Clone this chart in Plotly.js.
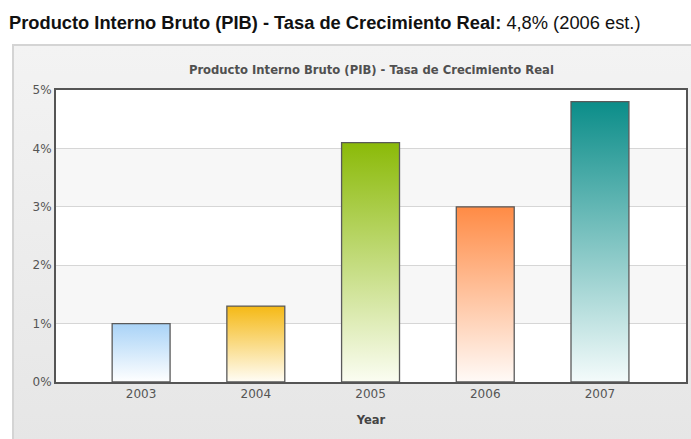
<!DOCTYPE html>
<html>
<head>
<meta charset="utf-8">
<script src="https://cdn.plot.ly/plotly-3.0.1.min.js"></script>
<style>
  html, body { margin: 0; padding: 0; background: #ffffff; }
  #wrap { position: relative; width: 691px; height: 439px; overflow: hidden; }
  #panel { position: absolute; left: 12px; top: 44px; width: 690px; height: 400px;
           border: 2px solid #d4d4d4; box-sizing: border-box;
           background: linear-gradient(to bottom, #f3f3f3 0%, #e6e6e6 100%); }
  #chart { position: absolute; left: 0; top: 0; width: 691px; height: 439px; }
</style>
</head>
<body>
<div id="wrap">
  <div id="panel"></div>
  <div id="chart"></div>
</div>
<script>
const years = ['2003', '2004', '2005', '2006', '2007'];
const growth = [1.0, 1.3, 4.1, 3.0, 4.8];
const tickVals = [0, 1, 2, 3, 4, 5];
const tickText = ['0%', '1%', '2%', '3%', '4%', '5%'];
const topColors = ['#a9d3f7', '#f5b915', '#8bba08', '#ff8b45', '#0b8d89'];
const bottomColors = ['#ffffff', '#fffdf6', '#fbfdf2', '#fffaf7', '#f4fbfb'];
const bandRanges = [[1, 2], [3, 4]];

const chartTitle = 'Producto Interno Bruto (PIB) - Tasa de Crecimiento Real';
const headingBold = 'Producto Interno Bruto (PIB) - Tasa de Crecimiento Real:';
const headingRest = ' 4,8% (2006 est.)';

const trace = {
  type: 'bar',
  x: years,
  y: growth,
  width: 0.505,
  marker: { color: topColors, line: { color: '#5a5a5a', width: 1.3 } },
  hoverinfo: 'x+y'
};

const shapes = bandRanges.map(r => ({
  type: 'rect', xref: 'paper', yref: 'y', x0: 0, x1: 1, y0: r[0], y1: r[1],
  fillcolor: '#f7f7f7', line: { width: 0 }, layer: 'below'
}));

const layout = {
  width: 691, height: 439,
  margin: { l: 56, r: 5, t: 90, b: 57 },
  paper_bgcolor: 'rgba(0,0,0,0)',
  plot_bgcolor: '#ffffff',
  showlegend: false,
  bargap: 0,
  font: { family: 'Verdana, "DejaVu Sans", sans-serif', color: '#555555', size: 12 },
  title: {
    text: '<b>' + chartTitle + '</b>',
    font: { family: 'Verdana, "DejaVu Sans", sans-serif', size: 11.6, color: '#505050' },
    x: 0.5375, xanchor: 'center', y: 0.84, yanchor: 'middle'
  },
  xaxis: {
    type: 'category',
    range: [-0.742, 4.75],
    showgrid: false,
    showline: true, linecolor: '#555555', linewidth: 2, mirror: true,
    ticks: '', tickfont: { size: 12, color: '#555555' },
    title: { text: '<b>Year</b>', font: { size: 11.5, color: '#444444' }, standoff: 16 },
    fixedrange: true
  },
  yaxis: {
    range: [0, 5],
    tickvals: tickVals, ticktext: tickText,
    showgrid: true, gridcolor: '#d6d6d6', gridwidth: 1,
    zeroline: false,
    showline: true, linecolor: '#555555', linewidth: 2, mirror: true,
    ticks: '', tickfont: { size: 12, color: '#555555' },
    fixedrange: true
  },
  shapes: shapes,
  annotations: [{
    xref: 'paper', yref: 'paper', x: -0.0785, y: 1.232, xanchor: 'left', yanchor: 'middle',
    showarrow: false,
    text: '<b>' + headingBold + '</b>' + headingRest,
    font: { family: 'Arial, "Liberation Sans", sans-serif', size: 18.3, color: '#111111' }
  }]
};

Plotly.newPlot('chart', [trace], layout, { displayModeBar: false, staticPlot: true }).then(gd => {
  const svg = gd.querySelector('svg.main-svg');
  const ns = 'http://www.w3.org/2000/svg';
  let defs = svg.querySelector('defs');
  if (!defs) { defs = document.createElementNS(ns, 'defs'); svg.insertBefore(defs, svg.firstChild); }
  topColors.forEach((c, i) => {
    const g = document.createElementNS(ns, 'linearGradient');
    g.setAttribute('id', 'bargrad' + i);
    g.setAttribute('x1', '0'); g.setAttribute('y1', '0');
    g.setAttribute('x2', '0'); g.setAttribute('y2', '1');
    const s1 = document.createElementNS(ns, 'stop');
    s1.setAttribute('offset', '0'); s1.setAttribute('stop-color', c);
    const s2 = document.createElementNS(ns, 'stop');
    s2.setAttribute('offset', '1'); s2.setAttribute('stop-color', bottomColors[i]);
    g.appendChild(s1); g.appendChild(s2);
    defs.appendChild(g);
  });
  gd.querySelectorAll('.bars .point path').forEach((p, i) => {
    p.style.fill = 'url(#bargrad' + i + ')';
  });
});
</script>
</body>
</html>
